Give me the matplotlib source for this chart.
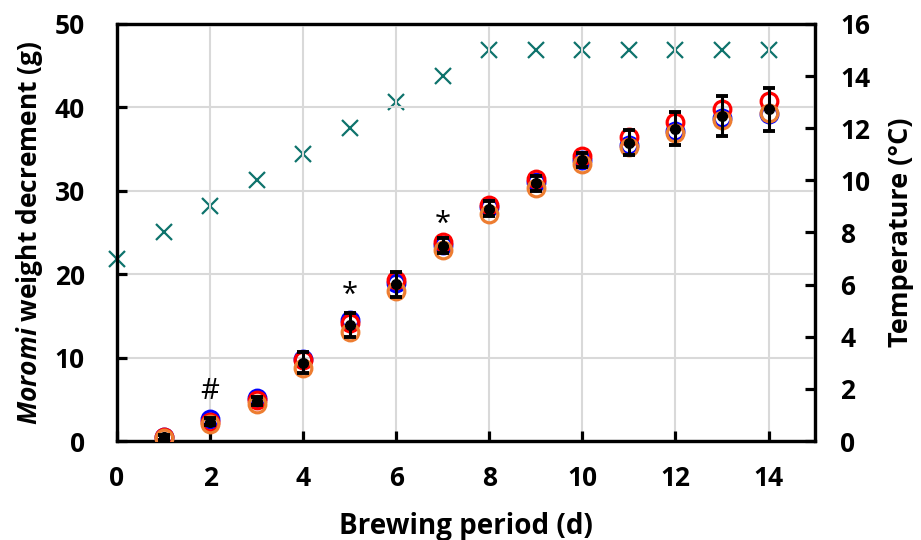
import matplotlib
matplotlib.use("Agg")
import matplotlib.pyplot as plt
import numpy as np

days = [1, 2, 3, 4, 5, 6, 7, 8, 9, 10, 11, 12, 13, 14]
blue = [0.5, 2.6, 5.2, 9.8, 14.5, 19.0, 23.5, 28.0, 31.1, 33.7, 35.5, 37.2, 38.7, 39.2]
red = [0.5, 2.3, 4.9, 9.7, 14.1, 19.3, 23.9, 28.3, 31.4, 34.2, 36.5, 38.2, 39.8, 40.8]
orange = [0.4, 2.1, 4.4, 8.7, 13.1, 18.0, 22.9, 27.2, 30.3, 33.2, 35.3, 36.9, 38.5, 39.3]
mean_err = [0.3, 0.4, 0.5, 1.3, 1.4, 1.5, 0.9, 0.9, 0.9, 0.8, 1.5, 2.0, 2.4, 2.6]

temp_days = [0, 1, 2, 3, 4, 5, 6, 7, 8, 9, 10, 11, 12, 13, 14]
temperature = [7, 8, 9, 10, 11, 12, 13, 14, 15, 15, 15, 15, 15, 15, 15]

marks = ["#", "*", "*"]
mark_days = [2, 5, 7]
mark_y = [5.9, 17.4, 26.0]

mean_vals = list(np.mean([blue, red, orange], axis=0))

FONT = "Open Sans"
plt.rcParams['font.family'] = [FONT, 'DejaVu Sans']
plt.rcParams['mathtext.fontset'] = 'custom'
plt.rcParams['mathtext.bfit'] = FONT + ':italic:bold'
plt.rcParams['mathtext.it'] = FONT + ':italic:bold'
plt.rcParams['mathtext.rm'] = FONT + ':bold'
plt.rcParams['mathtext.bf'] = FONT + ':bold'

fig = plt.figure(figsize=(9.21, 5.4), dpi=100)
ax = fig.add_axes([0.127, 0.1833, 0.758, 0.7723])
ax2 = ax.twinx()

ax.set_xlim(0, 15)
ax.set_ylim(0, 50)
ax2.set_ylim(0, 16)

ax.set_xticks(range(0, 15, 2))
ax.set_yticks(range(0, 51, 10))
ax2.set_yticks(range(0, 17, 2))
ax.grid(True, color="#d9d9d9", linewidth=1.5, zorder=0)
ax.set_axisbelow(True)

ms = 12
mew = 2.3
ax.plot(days, blue, 'o', mfc='none', mec='#0000ff', ms=ms, mew=mew, zorder=3)
ax.plot(days, red, 'o', mfc='none', mec='#ff0000', ms=ms, mew=mew, zorder=4)
ax.plot(days, orange, 'o', mfc='none', mec='#ed7d31', ms=ms, mew=mew, zorder=5)
ax.errorbar(days, mean_vals, yerr=mean_err, fmt='o', color='black', ms=7,
            elinewidth=2.2, capsize=4.5, capthick=2.8, zorder=6)

ax2.plot(temp_days, temperature, 'x', color='#0e736c', ms=11, mew=1.6, clip_on=False, zorder=5)

for t, dx, dy in zip(marks, mark_days, mark_y):
    ax.text(dx, dy, t, ha='center', va='center', fontsize=21, color='black')

for a in (ax, ax2):
    for s in a.spines.values():
        s.set_linewidth(2.3)
        s.set_color('black')
ax.tick_params(axis='x', direction='in', length=7, width=2.3, labelsize=19, pad=17)
ax.tick_params(axis='y', direction='in', length=7, width=2.3, labelsize=19, pad=23)
ax2.tick_params(axis='y', direction='in', length=7, width=2.3, labelsize=19, pad=18)
for lab in ax.get_xticklabels() + ax.get_yticklabels() + ax2.get_yticklabels():
    lab.set_fontweight('bold')

ax.set_xlabel("Brewing period (d)", fontsize=20, fontweight='bold')
ax.set_ylabel(r"$\mathit{Moromi}$" + " weight decrement (g)", fontsize=19, fontweight='bold')
ax2.set_ylabel("Temperature (°C)", fontsize=19.5, fontweight='bold')
ax.xaxis.set_label_coords(0.5, -0.17)
ax.yaxis.set_label_coords(-0.103, 0.5)
ax2.yaxis.set_label_coords(1.105, 0.5)

ax.set_zorder(ax2.get_zorder() + 1)
ax.patch.set_visible(False)

fig.savefig("out.png", dpi=100)
